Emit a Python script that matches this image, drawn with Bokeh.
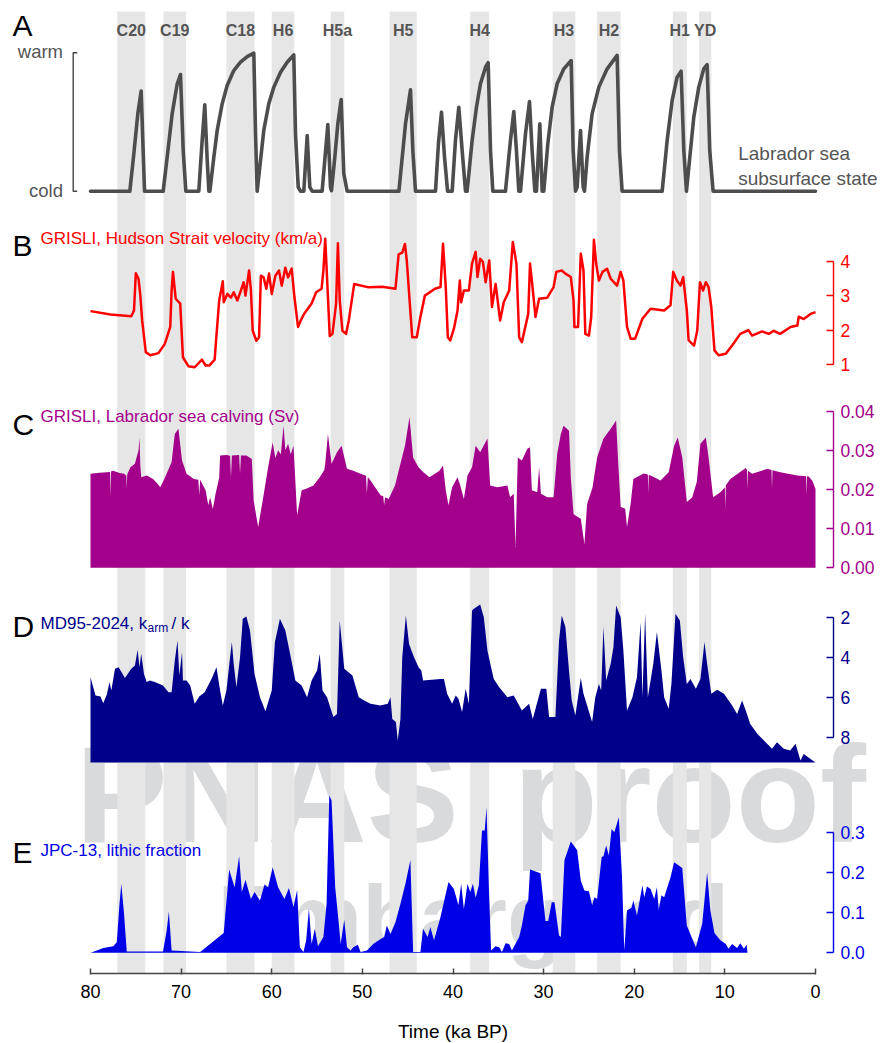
from bokeh.plotting import figure
from bokeh.models import Range1d, LinearAxis, FixedTicker, PrintfTickFormatter
from bokeh.core.properties import value
from bokeh.embed import file_html
from bokeh.resources import INLINE

# ---------------- data ----------------
event_names = ["C20", "C19", "C18", "H6", "H5a", "H5", "H4", "H3", "H2", "H1", "YD"]
event_start = [77.05, 71.95, 65.0, 60.0, 53.5, 47.0, 38.1, 29.0, 24.1, 15.75, 12.85]
event_end = [73.95, 69.45, 61.9, 57.5, 52.0, 44.0, 36.0, 26.5, 21.5, 14.2, 11.5]

state_age = [80.0, 75.66, 75.22, 74.78, 74.41, 74.19, 74.04,
             71.98, 71.54, 70.99, 70.43, 70.07, 69.77, 69.48,
             68.05, 67.68, 67.39, 67.12, 66.94,
             66.83, 66.39, 66.02, 65.47, 64.92, 64.19, 63.45, 62.71, 61.98, 61.79, 61.61,
             61.24, 60.88, 60.33, 59.77, 59.03, 58.30, 57.57, 57.38, 57.08, 56.83,
             56.46, 56.09, 55.80, 55.54,
             54.44, 53.81, 53.52, 53.41, 53.04, 52.71, 52.34, 52.05, 51.68,
             45.97, 45.60, 45.24, 44.69, 44.43, 44.14,
             41.93, 41.60, 41.27, 40.94, 40.60,
             40.09, 39.73, 39.36, 38.99, 38.62,
             38.44, 37.89, 37.41, 36.97, 36.41, 36.12, 35.86, 35.61,
             34.21, 33.66, 33.29, 33.00, 32.74,
             32.55, 32.00, 31.56, 31.27, 30.97,
             30.79, 30.42, 30.16,
             29.98, 29.54, 29.06, 28.51, 27.77, 26.96, 26.74, 26.48,
             26.30, 25.93, 25.64, 25.49,
             25.20, 24.65, 23.91, 22.99, 21.89, 21.63, 21.34,
             16.92, 16.37, 15.82, 15.27, 14.83, 14.53, 14.24,
             13.87, 13.43, 12.88, 12.33, 11.96, 11.67, 11.30,
             0.0]
state_val = [0, 0, 0.27, 0.559, 0.723, 0.294, 0,
             0, 0.246, 0.559, 0.776, 0.843, 0.294, 0,
             0, 0.366, 0.624, 0.222, 0,
             0, 0.246, 0.439, 0.631, 0.764, 0.872, 0.932, 0.973, 0.997, 0.415, 0,
             0.222, 0.439, 0.631, 0.752, 0.860, 0.932, 0.985, 0.415, 0.029, 0,
             0, 0.402, 0.03, 0,
             0, 0.482, 0.03, 0.004, 0.246, 0.487, 0.663, 0.126, 0,
             0, 0.246, 0.487, 0.733, 0.294, 0,
             0, 0.35, 0.571, 0.25, 0,
             0, 0.366, 0.607, 0.294, 0,
             0, 0.366, 0.607, 0.776, 0.896, 0.928, 0.294, 0,
             0, 0.366, 0.576, 0.294, 0,
             0, 0.415, 0.648, 0.294, 0,
             0, 0.487, 0,
             0, 0.342, 0.607, 0.776, 0.884, 0.944, 0.294, 0,
             0.03, 0.439, 0.03, 0,
             0.246, 0.559, 0.752, 0.884, 0.981, 0.294, 0,
             0, 0.366, 0.655, 0.824, 0.867, 0.294, 0,
             0.246, 0.535, 0.752, 0.884, 0.915, 0.294, 0,
             0]

hs_age = [80.0, 77.8, 75.5, 75.2, 75.0, 74.7, 74.5, 74.3, 73.9, 73.4, 72.5, 71.8, 71.2, 71.05,
          70.9, 70.6, 70.1, 69.8, 69.2, 68.5, 67.7, 67.3, 66.9, 66.3, 66.1, 65.8, 65.4, 65.3,
          64.9, 64.5, 64.2, 63.8, 63.4, 63.1, 62.9, 62.5, 62.3, 62.1, 61.7, 61.4, 61.2, 60.9,
          60.6, 60.3, 60.0, 59.6, 59.2, 58.9, 58.5, 58.2, 57.8, 57.5, 57.1, 56.8, 56.4, 55.6,
          55.1, 54.5, 54.3, 54.1, 53.9, 53.6, 53.3, 52.9, 52.7, 52.5, 52.2, 51.8, 51.5, 50.9,
          49.3, 47.8, 46.35, 46.0, 45.6, 45.3, 45.1, 44.5, 44.0, 43.6, 43.1, 42.0,
          41.38, 41.1, 40.8, 40.57, 40.3, 39.9, 39.5, 39.25, 39.1, 38.8, 38.25, 37.9, 37.5,
          37.3, 37.0, 36.7, 36.4, 36.0, 35.7, 35.3, 34.8, 34.4, 33.8, 33.4, 33.0, 32.7, 32.4,
          31.7, 31.5, 31.3, 30.9, 30.5, 29.6, 28.9, 28.6, 28.0, 27.6, 27.0, 26.7, 26.6, 26.2,
          25.9, 25.6, 25.4, 25.0, 24.75, 24.45, 24.2, 23.9, 23.5, 23.0, 22.6, 21.9, 21.5, 21.2,
          20.8, 20.4, 19.9, 19.1, 18.2, 16.7, 16.0, 15.7, 15.3, 14.9, 14.6, 14.2, 14.0, 13.4,
          13.05, 12.75, 12.4, 12.1, 11.8, 11.5, 11.15, 10.7, 9.9, 9.2, 8.3, 7.4, 7.0, 5.9,
          5.15, 4.6, 3.9, 2.75, 2.0, 1.85, 1.3, 0.55, 0.0]
hs_vel = [2.55, 2.45, 2.40, 2.57, 3.65, 3.49, 3.00, 2.28, 1.36, 1.27, 1.33, 1.60, 2.09, 3.15,
          3.69, 2.91, 2.77, 1.21, 0.95, 0.92, 1.14, 0.97, 0.97, 1.14, 1.85, 2.86, 3.42, 2.81,
          3.05, 2.94, 3.10, 2.86, 3.15, 3.39, 3.00, 3.73, 3.15, 1.98, 1.69, 1.79, 3.58, 3.53,
          3.20, 3.64, 3.05, 3.58, 3.73, 3.29, 3.81, 3.53, 3.79, 2.96, 2.09, 2.28, 2.48, 2.77,
          3.10, 3.20, 3.73, 4.65, 3.53, 1.83, 1.89, 2.77, 4.52, 2.86, 1.98, 1.89, 2.28, 3.34,
          3.24, 3.26, 3.20, 4.20, 4.25, 4.50, 4.02, 1.79, 1.79, 2.38, 3.00, 3.20,
          3.25, 4.51, 3.25, 1.79, 1.70, 2.04, 2.57, 3.44, 2.81, 3.15, 3.15, 3.93, 4.27,
          3.54, 4.07, 3.98, 3.39, 4.02, 2.67, 3.34, 2.28, 2.81, 3.15, 4.56, 3.93, 1.79, 1.65,
          2.47, 3.93, 3.44, 2.38, 2.91, 2.94, 3.25, 3.69, 3.73, 3.64, 3.54, 2.86, 2.09, 2.09,
          4.22, 3.73, 1.89, 1.84, 2.38, 4.62, 3.93, 3.44, 3.69, 3.78, 3.49, 3.29, 3.69, 3.44,
          2.09, 1.75, 1.75, 2.33, 2.62, 2.57, 2.72, 3.69, 3.44, 3.29, 3.54, 2.57, 1.70, 1.55,
          1.98, 3.39, 3.15, 3.39, 3.25, 2.67, 1.41, 1.27, 1.31, 1.55, 1.89, 2.00, 1.84, 1.96,
          1.89, 1.98, 1.89, 2.09, 2.13, 2.39, 2.32, 2.47, 2.52]

calv_age = [80.0, 79.0, 78.2, 77.85, 77.8, 77.75, 77.5, 76.8, 76.3, 76.05, 76.0, 75.95, 75.6,
            75.1, 74.7, 74.6, 74.5, 74.4, 73.8, 73.1, 72.6, 72.3, 71.9, 71.6, 71.05, 70.7, 70.3,
            69.9, 69.4, 68.6, 68.1, 68.0, 67.9, 67.3, 67.0, 66.8, 66.5, 66.2, 65.8, 65.7, 65.0,
            64.6, 64.5, 64.4, 63.6, 63.5, 63.4, 62.8, 62.2, 62.0, 61.5, 61.0, 60.4, 59.9, 59.6,
            59.3, 59.0, 58.7, 58.5, 58.2, 57.9, 57.6, 57.2, 56.7, 56.2, 55.4, 54.7, 54.2, 54.1,
            53.8, 53.4, 52.8, 52.3, 51.7, 51.0, 50.2, 49.6, 49.5, 49.4, 49.1, 48.0, 47.7, 47.6,
            47.5, 47.1, 46.4, 45.8, 45.3, 44.8, 44.4, 43.8, 43.3, 42.6, 42.0, 41.5, 41.1, 40.8,
            40.5, 40.1, 39.5, 39.2, 38.8, 38.4, 37.9, 37.5, 37.0, 36.2, 35.9, 35.1, 34.0, 33.7,
            33.3, 33.1, 32.85, 32.4, 31.8, 31.5, 31.3, 30.7, 30.5, 30.3, 29.6, 28.9, 28.5, 28.1,
            27.8, 27.2, 27.0, 26.7, 25.9, 25.5, 25.2, 24.6, 24.1, 23.4, 22.6, 22.0, 21.8, 21.5,
            21.0, 20.8, 20.4, 20.1, 18.95, 18.5, 18.45, 18.4, 18.2, 17.1, 16.2, 15.6, 15.2, 14.7,
            14.2, 13.6, 13.1, 12.7, 12.1, 11.8, 11.3, 10.5, 10.0, 9.95, 9.9, 9.4, 7.7, 7.55, 7.5,
            7.45, 7.0, 5.3, 4.85, 4.8, 4.75, 3.9, 2.0, 1.05, 1.0, 0.95, 0.75, 0.37, 0.0]
calv_sv = [0.0240, 0.0243, 0.0244, 0.0245, 0.0180, 0.0246, 0.0248, 0.0242, 0.0240, 0.0235, 0.0200,
           0.0238, 0.0257, 0.0266, 0.0300, 0.0333, 0.0260, 0.0231, 0.0236, 0.0227, 0.0215, 0.0206,
           0.0225, 0.0240, 0.0270, 0.0342, 0.0355, 0.0274, 0.0240, 0.0227, 0.0225, 0.0185, 0.0225,
           0.0198, 0.0160, 0.0180, 0.0150, 0.0189, 0.0230, 0.0287, 0.0288, 0.0286, 0.0230, 0.0287,
           0.0288, 0.0240, 0.0287, 0.0287, 0.0278, 0.0172, 0.0104, 0.0172, 0.0257, 0.0321, 0.0280,
           0.0300, 0.0290, 0.0363, 0.0300, 0.0317, 0.0290, 0.0312, 0.0134, 0.0198, 0.0202, 0.0210,
           0.0231, 0.0250, 0.0266, 0.0342, 0.0266, 0.0295, 0.0312, 0.0253, 0.0248, 0.0240, 0.0235,
           0.0190, 0.0232, 0.0223, 0.0185, 0.0183, 0.0160, 0.0180, 0.0176, 0.0210, 0.0266, 0.0312,
           0.0385, 0.0282, 0.0257, 0.0245, 0.0231, 0.0240, 0.0248, 0.0261, 0.0198, 0.0160, 0.0206,
           0.0231, 0.0210, 0.0176, 0.0236, 0.0257, 0.0312, 0.0295, 0.0330, 0.0210, 0.0206, 0.0210,
           0.0180, 0.0189, 0.0053, 0.0282, 0.0274, 0.0304, 0.0308, 0.0198, 0.0193, 0.0257, 0.0189,
           0.0180, 0.0180, 0.0291, 0.0342, 0.0363, 0.0350, 0.0231, 0.0137, 0.0125, 0.0061, 0.0163,
           0.0206, 0.0282, 0.0330, 0.0355, 0.0376, 0.0282, 0.0155, 0.0151, 0.0104, 0.0163, 0.0227,
           0.0241, 0.0238, 0.0190, 0.0237, 0.0236, 0.0223, 0.0244, 0.0312, 0.0333, 0.0282, 0.0168,
           0.0180, 0.0219, 0.0317, 0.0333, 0.0282, 0.0180, 0.0193, 0.0205, 0.0150, 0.0210, 0.0227,
           0.0255, 0.0250, 0.0200, 0.0248, 0.0240, 0.0253, 0.0250, 0.0200, 0.0249, 0.0244, 0.0236,
           0.0234, 0.0185, 0.0234, 0.0233, 0.0223, 0.0202]

karm_age = [80.0, 79.45, 78.9, 78.6, 78.2, 77.9, 77.7, 77.3, 76.9, 76.2, 75.5, 75.1, 74.8, 74.6,
            74.4, 74.1, 73.8, 73.45, 72.9, 72.0, 71.4, 71.05, 70.7, 70.4, 70.2, 69.9, 69.8, 69.4,
            69.0, 68.5, 68.0, 67.4, 66.6, 66.1, 65.7, 65.4, 65.0, 64.6, 64.4, 64.2, 63.9, 63.5,
            63.2, 62.8, 62.4, 61.9, 61.3, 60.7, 60.0, 59.65, 59.1, 58.5, 57.9, 57.4, 56.7, 56.1,
            55.6, 55.0, 54.7, 54.4, 53.9, 53.2, 52.8, 52.5, 52.0, 51.1, 50.4, 49.8, 49.1, 48.0,
            47.2, 46.9, 46.7, 46.3, 46.1, 45.8, 45.6, 45.2, 44.85, 44.3, 43.8, 43.5, 43.3, 41.38,
            41.0, 40.65, 40.1, 39.7, 39.4, 39.0, 38.6, 38.25, 37.9, 37.7, 37.0, 36.6, 36.2, 35.8,
            35.5, 34.9, 34.0, 33.3, 32.4, 31.6, 31.2, 30.3, 29.7, 29.4, 28.7, 28.3, 28.0, 27.6,
            27.2, 26.9, 26.5, 25.9, 25.6, 24.65, 24.3, 23.9, 23.65, 23.4, 23.1, 22.6, 22.3, 22.0,
            21.5, 21.2, 20.8, 20.2, 19.7, 19.3, 19.1, 18.8, 18.5, 17.9, 17.5, 17.0, 16.7, 16.2,
            15.9, 15.45, 14.97, 14.6, 14.2, 13.8, 13.2, 12.7, 12.25, 11.96, 11.5, 10.85, 10.1,
            9.2, 8.65, 8.1, 7.7, 7.2, 6.4, 5.5, 4.8, 4.25, 3.5, 2.8, 2.2, 1.66, 1.3, 0.55, 0.0]
karm_val = [4.99, 5.90, 5.95, 6.28, 5.85, 5.23, 5.65, 4.57, 4.49, 5.02, 4.57, 4.40, 3.62, 4.49,
            3.82, 4.82, 5.23, 5.15, 5.23, 5.40, 5.73, 5.73, 4.15, 3.16, 4.90, 3.74, 5.15, 5.15,
            5.40, 6.31, 5.95, 5.73, 5.02, 4.49, 5.65, 6.39, 5.65, 3.99, 3.24, 4.32, 5.48, 3.99,
            2.08, 1.97, 2.66, 4.82, 5.98, 6.68, 5.65, 3.24, 2.08, 2.66, 3.99, 5.15, 5.40, 5.98,
            5.15, 4.65, 3.82, 5.65, 5.98, 6.97, 6.81, 2.16, 4.57, 4.90, 5.98, 6.14, 6.31, 6.39,
            6.31, 5.98, 7.06, 7.22, 8.13, 7.06, 3.99, 1.91, 3.33, 3.99, 4.49, 4.65, 5.15, 5.07,
            5.07, 5.81, 6.31, 5.90, 6.06, 6.72, 5.56, 6.31, 1.67, 1.58, 1.37, 2.00, 3.66, 4.49,
            5.07, 5.48, 5.98, 5.90, 6.64, 6.31, 7.06, 5.56, 5.56, 6.97, 6.97, 3.16, 1.91, 2.49,
            4.65, 6.14, 6.89, 5.02, 5.81, 7.22, 5.98, 5.32, 5.65, 2.49, 5.15, 4.32, 3.49, 1.42,
            2.00, 3.66, 6.64, 5.98, 4.99, 2.25, 5.98, 1.83, 5.98, 4.32, 2.74, 4.65, 5.98, 6.56,
            5.32, 1.83, 2.16, 3.99, 5.32, 5.07, 5.56, 5.07, 3.24, 4.32, 5.81, 5.61, 5.81,
            6.39, 6.81, 6.14, 6.64, 7.31, 7.81, 8.22, 8.55, 8.22, 8.55, 8.63, 8.30, 9.13, 8.80,
            9.05, 9.23]

lith_age = [80.0, 79.3, 78.6, 77.5, 77.1, 76.8, 76.6, 76.3, 76.0, 72.0, 71.6, 71.35, 71.05, 67.9,
            65.3, 64.7, 64.1, 63.6, 63.3, 62.9, 62.3, 61.9, 61.3, 60.8, 60.4, 59.9, 59.3, 58.6,
            58.1, 57.6, 57.2, 56.9, 56.5, 56.2, 55.9, 55.6, 55.25, 54.9, 54.3, 53.95, 53.65, 53.4,
            53.0, 52.6, 52.4, 52.0, 51.7, 51.3, 51.0, 50.5, 50.2, 49.5, 48.8, 48.2, 47.6, 47.3,
            46.9, 46.35, 45.8, 45.25, 44.7, 44.4, 43.6, 43.3, 42.8, 42.5, 42.1,
            41.38, 40.5, 39.9, 39.4, 39.1, 38.8, 38.4, 38.1, 37.8, 37.5, 37.15, 36.8, 36.5, 36.3,
            36.05, 35.8, 35.3, 34.9, 34.6, 34.2, 33.8, 33.5, 32.7, 32.4, 32.0, 31.7, 31.5, 30.35,
            29.8, 29.5, 29.1, 28.8, 28.3, 28.1, 27.7, 27.0, 26.3, 25.9, 25.5, 25.0, 24.65, 24.4,
            24.1, 23.6, 23.4, 23.1, 22.8, 22.5, 22.2, 21.7, 21.35, 21.1, 20.8, 20.3, 20.1, 19.7,
            19.1, 18.9, 18.6, 18.2, 17.8, 17.5, 17.3, 17.0, 16.7, 16.0, 15.6, 14.7, 14.2, 13.6,
            13.2, 12.9, 12.5, 11.96, 11.6, 11.15, 10.5, 9.9, 9.6, 9.2, 8.65, 8.3, 7.9, 7.6, 7.5]
lith_frac = [0.0, 0.006, 0.012, 0.016, 0.026, 0.122, 0.172, 0.097, 0.003, 0.003, 0.054, 0.103, 0.006,
             0.002, 0.049, 0.207, 0.163, 0.240, 0.151, 0.182, 0.134, 0.151, 0.130, 0.170, 0.163,
             0.213, 0.163, 0.134, 0.161, 0.114, 0.156, 0.014, 0.002, 0.031, 0.110, 0.022, 0.060,
             0.016, 0.039, 0.122, 0.391, 0.379, 0.163, 0.072, 0.022, 0.082, 0.014, 0.006, 0.014,
             0.020, 0.002, 0.006, 0.022, 0.031, 0.039, 0.068, 0.047, 0.076, 0.122, 0.172, 0.231,
             0.002, 0.002, 0.060, 0.039, 0.064, 0.031,
             0.089, 0.176, 0.159, 0.118, 0.172, 0.109, 0.172, 0.151, 0.172, 0.137, 0.168, 0.304,
             0.304, 0.362, 0.168, 0.006, 0.016, 0.014, 0.002, 0.024, 0.022, 0.006, 0.039, 0.068,
             0.118, 0.130, 0.207, 0.198, 0.079, 0.079, 0.126, 0.126, 0.043, 0.039, 0.231, 0.277,
             0.255, 0.180, 0.155, 0.153, 0.118, 0.138, 0.134, 0.238, 0.240, 0.267, 0.242, 0.308,
             0.300, 0.337, 0.188, 0.006, 0.105, 0.112, 0.131, 0.093, 0.168, 0.138, 0.165, 0.159,
             0.134, 0.163, 0.107, 0.143, 0.138, 0.188, 0.225, 0.211, 0.068, 0.035, 0.014, 0.039,
             0.072, 0.200, 0.105, 0.049, 0.031, 0.022, 0.010, 0.022, 0.012, 0.024, 0.010, 0.020,
             0.0]

time_ticks = [0, 10, 20, 30, 40, 50, 60, 70, 80]

# ---------------- layout / style ----------------
FONT = "Liberation Sans"
W, FH = 880, 1043                 # the frame covers the whole page
AXIS_Y = 973.0                    # screen y of the time axis
PX_PER_KA = 725.0 / 80.0
X80 = 90.0                        # screen x of 80 ka
AXIS_X = 833.0                    # screen x of the right-hand value axes
BAND = "#e6e6e6"
GREY = "#555555"
WM = "#d9dadc"
RED = "#ff0000"
PURPLE = "#a3008b"
NAVY = "#00008b"
BLUE = "#0000e6"


def t_at(px):
    return 80.0 - (px - X80) / PX_PER_KA


def y_limits(v1, p1, v2, p2):
    """range (bottom, top) of the full frame so that v1 sits at screen y p1, v2 at p2"""
    s = (p1 - p2) / (v2 - v1)
    return (v1 - (FH - p1) / s, v1 + p1 / s)


def mid(baseline, size):
    """vertical centre of a text line whose baseline lies at screen y `baseline`"""
    return baseline - 0.35 * size


p = figure(frame_width=W, frame_height=FH,
           x_range=Range1d(t_at(0), t_at(W)), y_range=Range1d(FH, 0),
           output_backend="svg", toolbar_location=None, title=None,
           x_axis_location=None, y_axis_location=None,
           min_border=0, min_border_left=0, min_border_right=0, min_border_top=0,
           min_border_bottom=0,
           outline_line_color=None, background_fill_color="white",
           border_fill_color="white")
p.grid.visible = False
p.extra_x_ranges = {"pxx": Range1d(0, W)}
p.extra_y_ranges = {
    "a": Range1d(*y_limits(0, 190.7, 1, 52.3)),
    "b": Range1d(*y_limits(1, 364.0, 4, 260.7)),
    "c": Range1d(*y_limits(0, 567.3, 0.04, 410.7)),
    "d": Range1d(*y_limits(2, 616.7, 8, 737.3)),
    "e": Range1d(*y_limits(0, 952.3, 0.3, 831.7)),
}


def ptext(x, baseline, txt, size, color, style="normal", align="left", level=None):
    r = p.text(x=[x], y=[mid(baseline, size)], text=[txt], x_range_name="pxx",
               text_font=value(FONT), text_font_size="%gpx" % size, text_color=color,
               text_font_style=style, text_align=align, text_baseline="middle")
    if level:
        r.level = level
    return r


def right_axis(name, ticks, color, fmt=None):
    ax = LinearAxis(y_range_name=name, fixed_location=t_at(AXIS_X),
                    ticker=FixedTicker(ticks=ticks), bounds=(min(ticks), max(ticks)),
                    axis_line_color=color, axis_line_width=1.4,
                    major_tick_line_color=color, major_tick_line_width=1.4,
                    major_tick_in=7, major_tick_out=0, minor_tick_line_color=None,
                    major_label_text_color=color, major_label_text_font=FONT,
                    major_label_text_font_size="17.5px", major_label_standoff=7)
    if fmt:
        ax.formatter = PrintfTickFormatter(format=fmt)
    p.add_layout(ax, "right")


# watermark (below the bands)
ptext(75, 842, "PNAS", 138, WM, style="bold", level="image")
ptext(513, 842, "proof", 138, WM, style="bold", level="image")
ptext(217, 950, "Embargoed", 93, WM, style="bold", level="image")

# event bands
bands = p.quad(left=event_start, right=event_end, bottom=AXIS_Y, top=11,
               fill_color=BAND, line_color=None)
bands.level = "underlay"
mids = [(a + b) / 2 for a, b in zip(event_start, event_end)]
p.text(x=mids, y=[mid(35.7, 16)] * len(mids), text=event_names,
       text_font=value(FONT), text_font_size="16px", text_font_style="bold",
       text_color=GREY, text_align="center", text_baseline="middle")

# ---- Panel A ----
p.line(state_age, state_val, y_range_name="a", line_width=3.6, line_color="#4d4d4d",
       line_join="round", line_cap="round")
p.line(x=[76.7, 72.7, 72.7, 76.7], y=[1, 1, 0, 0], x_range_name="pxx", y_range_name="a",
       line_color="#444444", line_width=1.4)
ptext(12, 35, "A", 30, "black")
ptext(62.5, 57.3, "warm", 18.5, GREY, align="right")
ptext(62.5, 196.7, "cold", 18.5, GREY, align="right")
ptext(737.7, 159.5, "Labrador sea", 19, GREY)
ptext(737.7, 184.5, "subsurface state", 19, GREY)

# ---- Panel B ----
p.line(hs_age, hs_vel, y_range_name="b", line_width=2.5, line_color=RED, line_join="round")
right_axis("b", [1, 2, 3, 4], RED)
ptext(12, 255, "B", 30, "black")
ptext(40, 244, "GRISLI, Hudson Strait velocity (km/a)", 17, RED)

# ---- Panel C ----
p.varea(x=calv_age, y1=0, y2=calv_sv, y_range_name="c", fill_color=PURPLE)
right_axis("c", [0, 0.01, 0.02, 0.03, 0.04], PURPLE, "%.2f")
ptext(12, 434.5, "C", 30, "black")
ptext(40, 422.3, "GRISLI, Labrador sea calving (Sv)", 17, PURPLE)

# ---- Panel D ----
d_base = 2 + (762 - 616.7) / 20.1
p.varea(x=karm_age, y1=karm_val, y2=d_base, y_range_name="d", fill_color=NAVY)
right_axis("d", [2, 4, 6, 8], NAVY)
ptext(12, 636.7, "D", 30, "black")
ptext(40, 629.3, "MD95-2024, k", 17, NAVY)
ptext(147, 631.5, "arm", 12, NAVY)
ptext(171, 629.3, "/ k", 17, NAVY)

# ---- Panel E ----
p.varea(x=lith_age, y1=0, y2=lith_frac, y_range_name="e", fill_color=BLUE)
right_axis("e", [0, 0.1, 0.2, 0.3], BLUE, "%.1f")
ptext(12, 862.3, "E", 30, "black")
ptext(40, 855.7, "JPC-13, lithic fraction", 17, BLUE)

# ---- time axis ----
xa = LinearAxis(fixed_location=AXIS_Y,
                ticker=FixedTicker(ticks=time_ticks), bounds=(min(time_ticks), max(time_ticks)),
                axis_line_color="#444444", axis_line_width=1.5,
                major_tick_line_color="#444444", major_tick_line_width=1.5,
                major_tick_in=5, major_tick_out=1, minor_tick_line_color=None,
                major_label_text_font=FONT, major_label_text_font_size="18px",
                major_label_text_color="black", major_label_standoff=10)
p.add_layout(xa, "below")
p.text(x=[sum(time_ticks) / len(time_ticks)], y=[mid(1038, 19)], text=["Time (ka BP)"],
       text_font=value(FONT), text_font_size="19px", text_color="black",
       text_align="center", text_baseline="middle")

open("out.html", "w").write(file_html(p, INLINE))
